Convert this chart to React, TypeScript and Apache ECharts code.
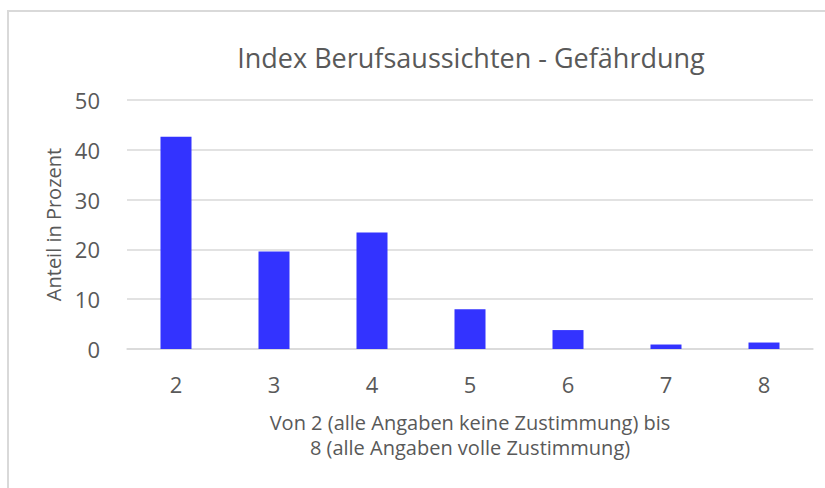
import React, { useEffect, useRef } from "react";
import * as echarts from "echarts";

const categories = ["2", "3", "4", "5", "6", "7", "8"];
const shares = [42.6, 19.6, 23.4, 8.0, 3.8, 0.9, 1.3];
const titleText = "Index Berufsaussichten - Gefährdung";
const yAxisName = "Anteil in Prozent";
const xAxisName = "Von 2 (alle Angaben keine Zustimmung) bis\n8 (alle Angaben volle Zustimmung)";

const FONT = "'Open Sans', 'Noto Sans', sans-serif";
const GREY = "#595959";

export default function App() {
  const ref = useRef<HTMLDivElement>(null);
  useEffect(() => {
    if (!ref.current) return;
    const chart = echarts.init(ref.current, undefined, { renderer: "svg" });
    chart.setOption({
      animation: false,
      backgroundColor: "#ffffff",
      graphic: [
        {
          type: "rect",
          shape: { x: 8, y: 11, width: 1000, height: 1000 },
          style: { fill: "none", stroke: "#d9d9d9", lineWidth: 2 },
          silent: true,
        },
        {
          type: "text",
          x: 471,
          y: 57,
          style: {
            text: titleText,
            align: "center",
            verticalAlign: "middle",
            fontFamily: FONT,
            fontSize: 27,
            fill: GREY,
          },
        },
      ],
      grid: { left: 127, right: 12, top: 100, bottom: 139, containLabel: false },
      xAxis: {
        type: "category",
        data: categories,
        axisLine: { show: true, lineStyle: { color: "#d9d9d9", width: 1.5 } },
        axisTick: { show: false },
        axisLabel: { color: GREY, fontFamily: FONT, fontSize: 22, margin: 24 },
        name: xAxisName,
        nameLocation: "middle",
        nameGap: 61,
        nameTextStyle: { color: GREY, fontFamily: FONT, fontSize: 20, lineHeight: 25 },
      },
      yAxis: {
        type: "value",
        min: 0,
        max: 50,
        interval: 10,
        axisLine: { show: false },
        axisTick: { show: false },
        splitLine: { lineStyle: { color: "#d9d9d9", width: 1.5 } },
        axisLabel: { color: GREY, fontFamily: FONT, fontSize: 22, margin: 27 },
        name: yAxisName,
        nameLocation: "middle",
        nameGap: 63,
        nameTextStyle: { color: GREY, fontFamily: FONT, fontSize: 20 },
      },
      series: [
        {
          type: "bar",
          data: shares,
          barWidth: 31,
          itemStyle: { color: "#3333ff" },
        },
      ],
    });
    return () => chart.dispose();
  }, []);
  return (
    <div
      ref={ref}
      style={{ position: "fixed", left: 0, top: 0, width: 825, height: 488 }}
    />
  );
}
